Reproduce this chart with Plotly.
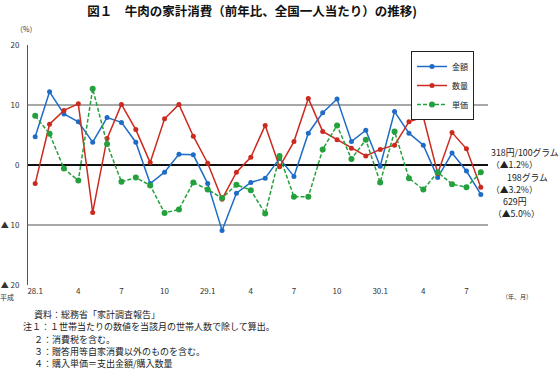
import plotly.graph_objects as go

months = ["28.1","28.2","28.3","28.4","28.5","28.6","28.7","28.8","28.9","28.10","28.11","28.12",
          "29.1","29.2","29.3","29.4","29.5","29.6","29.7","29.8","29.9","29.10","29.11","29.12",
          "30.1","30.2","30.3","30.4","30.5","30.6","30.7","30.8"]
kingaku = [4.7, 12.2, 8.5, 7.2, 3.8, 7.9, 7.1, 3.8, -3.1, -1.2, 1.8, 1.7,
           -3.1, -10.9, -4.7, -2.9, -2.2, 1.1, -1.9, 5.3, 8.7, 11.0, 3.9, 5.8,
           -0.2, 8.9, 5.3, 3.3, -2.1, 2.0, -1.0, -4.9]
suryo = [-3.1, 6.8, 9.1, 10.2, -7.9, 4.4, 10.1, 5.9, 0.4, 7.7, 10.1, 4.8,
         0.3, -5.7, -1.2, 1.3, 6.6, -0.3, 3.9, 11.1, 5.6, 4.2, 2.8, 1.5,
         2.6, 3.3, 7.2, 8.0, -1.4, 5.4, 2.7, -3.7]
tanka = [8.2, 5.2, -0.6, -2.6, 12.7, 3.5, -2.8, -2.1, -3.4, -8.0, -7.4, -2.9,
         -4.1, -5.5, -3.3, -4.2, -8.1, 1.5, -5.3, -5.3, 2.6, 6.6, 1.0, 4.2,
         -2.9, 5.6, -2.2, -4.1, -1.2, -3.2, -3.7, -1.2]
tick_vals = ["28.1","28.4","28.7","28.10","29.1","29.4","29.7","29.10","30.1","30.4","30.7"]
tick_text = ["28.1","4","7","10","29.1","4","7","10","30.1","4","7"]
y_vals = [20, 10, 0, -10, -20]
y_text = ["20", "10", "0", "▲ 10", "▲ 20"]
right_notes = ["318円/100グラム", "（▲1.2%）", "198グラム", "（▲3.2%）", "629円", "（▲5.0%）"]
footnotes = ["資料：総務省「家計調査報告」",
             "注１：１世帯当たりの数値を当該月の世帯人数で除して算出。",
             "２：消費税を含む。",
             "３：贈答用等自家消費以外のものを含む。",
             "４：購入単価＝支出金額/購入数量"]

FONT = "Noto Sans CJK JP"
W, H = 559, 369
# plot area in page pixels
L, R, T, B = 28, 488, 45, 285

def px(x):
    return (x - L) / (R - L)

def py(y):
    return (B - y) / (B - T)

fig = go.Figure()
fig.add_trace(go.Scatter(x=months, y=kingaku, name="金額", mode="lines+markers",
                         line=dict(color="#1f6cc6", width=1.5), marker=dict(size=5, color="#1f6cc6")))
fig.add_trace(go.Scatter(x=months, y=suryo, name="数量", mode="lines+markers",
                         line=dict(color="#cc2a1e", width=1.5), marker=dict(size=5, color="#cc2a1e")))
fig.add_trace(go.Scatter(x=months, y=tanka, name="単価", mode="lines+markers",
                         line=dict(color="#24a03c", width=1.5, dash="4px,2px"),
                         marker=dict(size=6, color="#24a03c")))

annotations = []
annotations.append(dict(text="（%）", x=px(26), y=py(29), xref="paper", yref="paper",
                        showarrow=False, font=dict(size=7, color="#333"), xanchor="center", yanchor="middle"))
annotations.append(dict(text="平成", x=px(7), y=py(297), xref="paper", yref="paper",
                        showarrow=False, font=dict(size=7, color="#333"), xanchor="center", yanchor="middle"))
annotations.append(dict(text="（年、月）", x=px(517), y=py(296), xref="paper", yref="paper",
                        showarrow=False, font=dict(size=6, color="#333"), xanchor="center", yanchor="middle"))
note_pos = [(525, 152), (514, 164), (527, 177), (514, 189), (515, 201), (516, 213)]
for t, (xx, yy) in zip(right_notes, note_pos):
    annotations.append(dict(text=t, x=px(xx), y=py(yy), xref="paper", yref="paper",
                            showarrow=False, font=dict(size=8.8, color="#222"),
                            xanchor="center", yanchor="middle"))
foot_pos = [(32, 314), (21, 326), (32, 339), (32, 351), (32, 363)]
for t, (xx, yy) in zip(footnotes, foot_pos):
    annotations.append(dict(text=t, x=px(xx), y=py(yy), xref="paper", yref="paper",
                            showarrow=False, font=dict(size=9, color="#222"),
                            xanchor="left", yanchor="middle"))

fig.update_layout(
    width=W, height=H,
    margin=dict(l=L, r=W - R, t=T, b=H - B, pad=0, autoexpand=False),
    paper_bgcolor="white", plot_bgcolor="white",
    font=dict(family=FONT, color="#333"),
    title=dict(text="<b>図１　牛肉の家計消費（前年比、全国一人当たり）の推移)</b>",
               x=252 / W, xanchor="center", y=1 - 12 / H, yanchor="middle",
               font=dict(size=12.5, color="#111", family=FONT)),
    showlegend=True,
    legend=dict(x=px(411), y=py(51), xanchor="left", yanchor="top",
                bordercolor="#222", borderwidth=1, bgcolor="white",
                font=dict(size=8, color="#222"), itemwidth=30,
                tracegroupgap=0),
    xaxis=dict(type="category", range=[-0.5, 31.5], tickvals=tick_vals, ticktext=tick_text,
               showgrid=False, zeroline=False, showline=False, ticks="", automargin=False,
               tickfont=dict(size=8, color="#333")),
    yaxis=dict(range=[-20, 20], tickvals=y_vals, ticktext=y_text, showgrid=True,
               gridcolor="#a8a8a8", gridwidth=1.5, zeroline=True, zerolinecolor="#111",
               zerolinewidth=1.5, showline=True, linecolor="#555", linewidth=1, automargin=False,
               ticks="", ticklabelstandoff=6, tickfont=dict(size=8, color="#333")),
    annotations=annotations,
)

# remove the default 8px page margin so the figure fills the window exactly
fig.write_html("out.html", config={"displayModeBar": False},
               post_script="document.body.style.margin='0px';")
